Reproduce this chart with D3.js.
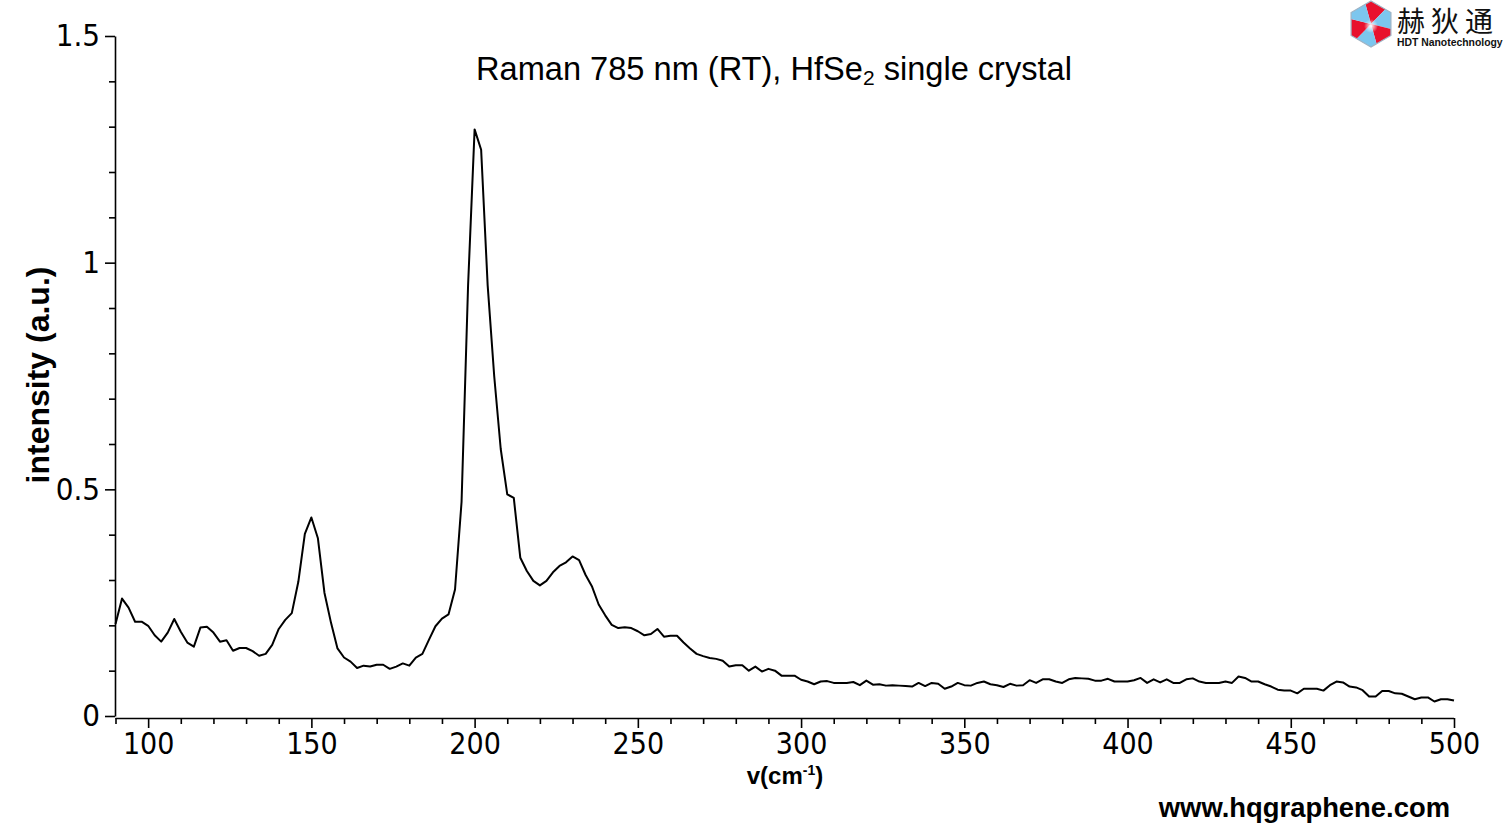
<!DOCTYPE html>
<html>
<head>
<meta charset="utf-8">
<script src="https://cdn.jsdelivr.net/npm/d3@7/dist/d3.min.js"></script>
<style>
  html, body { margin: 0; padding: 0; background: #fff; }
  svg { display: block; }
</style>
</head>
<body>
<div id="chart"></div>
<script>
(function() {

    var w = 1510;
    var h = 826;

    // Raman shift (cm-1), one reading every 2 cm-1
    var shifts = [
        90, 92, 94, 96, 98, 100, 102, 104, 106, 108, 110, 112, 114, 116, 118, 120, 122, 124, 126, 128,
        130, 132, 134, 136, 138, 140, 142, 144, 146, 148, 150, 152, 154, 156, 158, 160, 162, 164, 166, 168,
        170, 172, 174, 176, 178, 180, 182, 184, 186, 188, 190, 192, 194, 196, 198, 200, 202, 204, 206, 208,
        210, 212, 214, 216, 218, 220, 222, 224, 226, 228, 230, 232, 234, 236, 238, 240, 242, 244, 246, 248,
        250, 252, 254, 256, 258, 260, 262, 264, 266, 268, 270, 272, 274, 276, 278, 280, 282, 284, 286, 288,
        290, 292, 294, 296, 298, 300, 302, 304, 306, 308, 310, 312, 314, 316, 318, 320, 322, 324, 326, 328,
        330, 332, 334, 336, 338, 340, 342, 344, 346, 348, 350, 352, 354, 356, 358, 360, 362, 364, 366, 368,
        370, 372, 374, 376, 378, 380, 382, 384, 386, 388, 390, 392, 394, 396, 398, 400, 402, 404, 406, 408,
        410, 412, 414, 416, 418, 420, 422, 424, 426, 428, 430, 432, 434, 436, 438, 440, 442, 444, 446, 448,
        450, 452, 454, 456, 458, 460, 462, 464, 466, 468, 470, 472, 474, 476, 478, 480, 482, 484, 486, 488,
        490, 492, 494, 496, 498, 500
    ];

    // intensity (a.u.)
    var intensity = [
        0.203, 0.259, 0.239, 0.208, 0.208, 0.199, 0.178, 0.164, 0.184, 0.214, 0.186, 0.162, 0.153, 0.195, 0.197, 0.184, 0.164, 0.167, 0.144, 0.150,
        0.150, 0.143, 0.133, 0.137, 0.157, 0.192, 0.212, 0.227, 0.296, 0.402, 0.438, 0.392, 0.272, 0.206, 0.149, 0.129, 0.120, 0.106, 0.111, 0.109,
        0.113, 0.113, 0.104, 0.109, 0.116, 0.111, 0.129, 0.137, 0.168, 0.198, 0.215, 0.224, 0.279, 0.472, 0.950, 1.294, 1.249, 0.950, 0.750, 0.589,
        0.489, 0.481, 0.349, 0.320, 0.298, 0.288, 0.298, 0.317, 0.331, 0.339, 0.352, 0.344, 0.311, 0.285, 0.246, 0.222, 0.201, 0.194, 0.196, 0.194,
        0.187, 0.178, 0.181, 0.192, 0.175, 0.177, 0.177, 0.162, 0.149, 0.137, 0.132, 0.128, 0.126, 0.122, 0.109, 0.112, 0.112, 0.100, 0.109, 0.098,
        0.104, 0.100, 0.089, 0.089, 0.089, 0.080, 0.076, 0.070, 0.076, 0.077, 0.073, 0.073, 0.073, 0.075, 0.068, 0.078, 0.069, 0.070, 0.067, 0.068,
        0.067, 0.066, 0.065, 0.073, 0.066, 0.073, 0.071, 0.060, 0.065, 0.073, 0.068, 0.067, 0.073, 0.076, 0.070, 0.068, 0.064, 0.071, 0.067, 0.068,
        0.079, 0.073, 0.081, 0.081, 0.076, 0.073, 0.081, 0.084, 0.083, 0.082, 0.078, 0.078, 0.082, 0.076, 0.076, 0.076, 0.079, 0.084, 0.073, 0.081,
        0.074, 0.081, 0.073, 0.073, 0.081, 0.083, 0.076, 0.073, 0.073, 0.073, 0.076, 0.073, 0.087, 0.084, 0.076, 0.076, 0.070, 0.065, 0.058, 0.056,
        0.056, 0.050, 0.060, 0.060, 0.060, 0.056, 0.068, 0.076, 0.074, 0.065, 0.063, 0.057, 0.043, 0.043, 0.055, 0.055, 0.050, 0.049, 0.043, 0.037,
        0.041, 0.041, 0.032, 0.037, 0.037, 0.034
    ];

    var xMajorTicks = [100, 150, 200, 250, 300, 350, 400, 450, 500];
    var xMinorTicks = [90, 110, 120, 130, 140, 160, 170, 180, 190, 210, 220, 230, 240, 260, 270, 280, 290,
        310, 320, 330, 340, 360, 370, 380, 390, 410, 420, 430, 440, 460, 470, 480, 490];
    var yMajorTicks = [0, 0.5, 1, 1.5];
    var yMajorLabels = ["0", "0.5", "1", "1.5"];
    var yMinorTicks = [0.1, 0.2, 0.3, 0.4, 0.6, 0.7, 0.8, 0.9, 1.1, 1.2, 1.3, 1.4];

    var tickFont = "'DejaVu Sans Condensed', 'DejaVu Sans', sans-serif";
    var textFont = "'Liberation Sans', Arial, sans-serif";

    var svg = d3.select("#chart")
        .append("svg")
        .attr("width", w)
        .attr("height", h);

    var x = d3.scaleLinear().domain([90, 500]).range([115.5, 1454]);
    var y = d3.scaleLinear().domain([0, 1.5]).range([716, 36]);

    // x axis (sits just under the y axis end)
    var xAxisG = svg.append("g").attr("transform", "translate(0,718)");
    xAxisG.append("g")
        .call(d3.axisBottom(x).tickValues(xMinorTicks).tickSize(6).tickFormat(""))
        .call(function(g) { g.select(".domain").remove(); });
    xAxisG.append("g")
        .call(d3.axisBottom(x).tickValues(xMajorTicks).tickSize(10).tickSizeOuter(0).tickPadding(5))
        .call(function(g) {
            g.select(".domain").attr("d", "M" + x(90) + ",0.5H" + x(500));
            g.selectAll("text")
                .attr("font-family", tickFont)
                .attr("font-size", 30)
                .attr("fill", "#000");
        });

    // y axis
    var yAxisG = svg.append("g").attr("transform", "translate(115,0)");
    yAxisG.append("g")
        .call(d3.axisLeft(y).tickValues(yMinorTicks).tickSize(6).tickFormat(""))
        .call(function(g) { g.select(".domain").remove(); });
    yAxisG.append("g")
        .call(d3.axisLeft(y).tickValues(yMajorTicks).tickSize(10).tickSizeOuter(0).tickPadding(5)
            .tickFormat(function(d, i) { return yMajorLabels[i]; }))
        .call(function(g) {
            g.selectAll("text")
                .attr("font-family", tickFont)
                .attr("font-size", 31)
                .attr("fill", "#000");
        });

    svg.selectAll(".tick line, .domain").attr("stroke", "#000").attr("stroke-width", 1.6);

    // the spectrum
    var pts = shifts.map(function(s, i) { return [s, intensity[i]]; });
    var line = d3.line()
        .x(function(d) { return x(d[0]); })
        .y(function(d) { return y(d[1]); });

    svg.append("path")
        .datum(pts)
        .attr("d", line)
        .attr("fill", "none")
        .attr("stroke", "#000")
        .attr("stroke-width", 2)
        .attr("stroke-linejoin", "round");

    // title
    var title = svg.append("text")
        .attr("x", 774)
        .attr("y", 80)
        .attr("text-anchor", "middle")
        .attr("font-family", textFont)
        .attr("font-size", 32.6)
        .attr("fill", "#000");
    title.append("tspan").text("Raman 785 nm (RT), HfSe");
    title.append("tspan").attr("font-size", 21).attr("dy", 5).text("2");
    title.append("tspan").attr("dy", -5).text(" single crystal");

    // axis titles
    svg.append("text")
        .attr("transform", "translate(49,375) rotate(-90)")
        .attr("text-anchor", "middle")
        .attr("font-family", textFont)
        .attr("font-weight", "bold")
        .attr("font-size", 32)
        .attr("fill", "#000")
        .text("intensity (a.u.)");

    var xlab = svg.append("text")
        .attr("x", 785)
        .attr("y", 784)
        .attr("text-anchor", "middle")
        .attr("font-family", textFont)
        .attr("font-weight", "bold")
        .attr("font-size", 24)
        .attr("fill", "#000");
    xlab.append("tspan").text("v(cm");
    xlab.append("tspan").attr("font-size", 14).attr("dy", -9).text("-1");
    xlab.append("tspan").attr("dy", 9).text(")");

    svg.append("text")
        .attr("x", 1450)
        .attr("y", 817)
        .attr("text-anchor", "end")
        .attr("font-family", textFont)
        .attr("font-weight", "bold")
        .attr("font-size", 27.4)
        .attr("fill", "#000")
        .text("www.hqgraphene.com");

    // logo: hexagon of red / light blue wedges
    var cx = 1371, cy = 24, r = 23;
    var logo = svg.append("g");
    var hex = d3.range(6).map(function(k) {
        var a = -Math.PI / 2 + k * Math.PI / 3;
        return [cx + r * Math.cos(a), cy + r * Math.sin(a)];
    });
    logo.append("clipPath").attr("id", "hexclip")
        .append("polygon").attr("points", hex.join(" "));
    var wedges = d3.range(6).map(function(k) {
        var a0 = -Math.PI / 2 - Math.PI / 6 + k * Math.PI / 3 + 0.25;
        var a1 = a0 + Math.PI / 3;
        var R = r * 2;
        return {
            pts: [[cx, cy], [cx + R * Math.cos(a0), cy + R * Math.sin(a0)], [cx + R * Math.cos(a1), cy + R * Math.sin(a1)]],
            col: k % 2 === 0 ? "#e8112d" : "#7cc6ee"
        };
    });
    logo.append("g").attr("clip-path", "url(#hexclip)")
        .selectAll("polygon").data(wedges).enter().append("polygon")
        .attr("points", function(d) { return d.pts.join(" "); })
        .attr("fill", function(d) { return d.col; });
    logo.append("polygon").attr("points", hex.join(" "))
        .attr("fill", "none").attr("stroke", "#9fb3c4").attr("stroke-width", 1.2);
    var glow = svg.append("defs").append("radialGradient").attr("id", "glow");
    glow.append("stop").attr("offset", "0%").attr("stop-color", "#fff").attr("stop-opacity", 1);
    glow.append("stop").attr("offset", "100%").attr("stop-color", "#fff").attr("stop-opacity", 0);
    logo.append("circle").attr("cx", cx).attr("cy", cy + 2).attr("r", 7).attr("fill", "url(#glow)");

    svg.append("text")
        .attr("x", 1397)
        .attr("y", 32)
        .attr("font-family", "'Noto Sans CJK SC', sans-serif")
        .attr("font-size", 28)
        .attr("letter-spacing", 6)
        .attr("fill", "#111")
        .text("赫狄通");
    svg.append("text")
        .attr("x", 1397)
        .attr("y", 46)
        .attr("font-family", textFont)
        .attr("font-weight", "bold")
        .attr("font-size", 10.4)
        .attr("fill", "#111")
        .text("HDT Nanotechnology");

})();
</script>
</body>
</html>
